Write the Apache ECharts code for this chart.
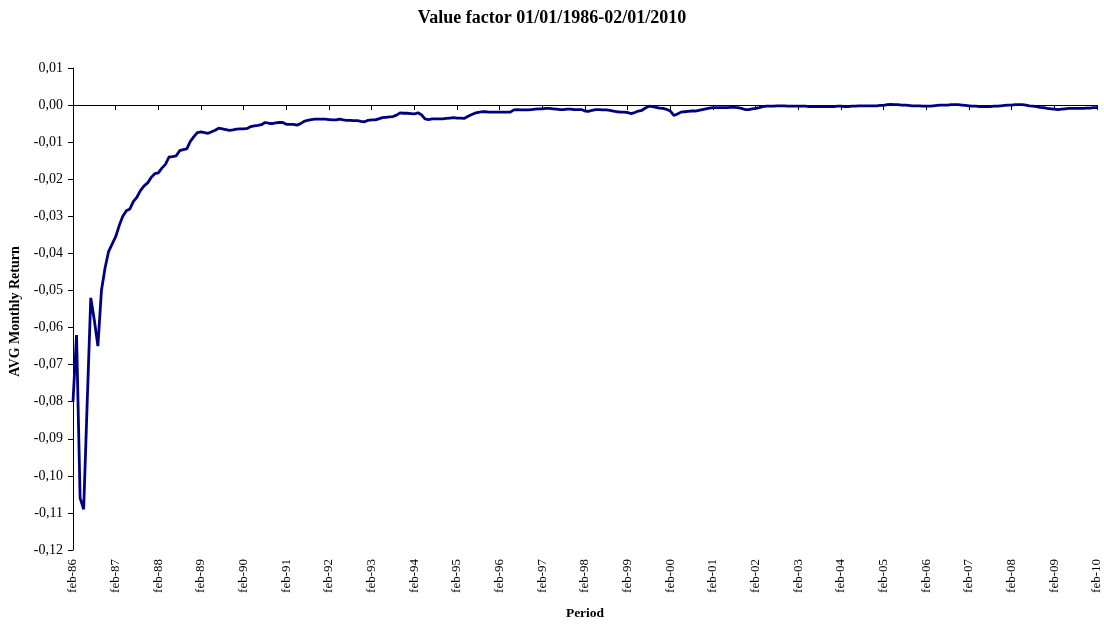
<!DOCTYPE html>
<html>
<head>
<meta charset="utf-8">
<script src="https://cdn.jsdelivr.net/npm/echarts@6/dist/echarts.min.js"></script>
<style>html,body{margin:0;padding:0;background:#fff}#c{width:1104px;height:626px}</style>
</head>
<body>
<div id="c"></div>
<script>
const titleText = 'Value factor 01/01/1986-02/01/2010';
const monthNames = ['jan','feb','mar','apr','may','jun','jul','aug','sep','oct','nov','dec'];
const startYear = 1986;
const startMonth = 1; // feb
const values = [
-0.080,-0.062,-0.106,-0.109,-0.080,-0.052,-0.058,-0.065,-0.050,-0.044,-0.0395,-0.0375,
-0.0355,-0.0325,-0.030,-0.0285,-0.028,-0.026,-0.0248,-0.023,-0.0218,-0.021,-0.0195,-0.0185,
-0.0183,-0.017,-0.016,-0.014,-0.0139,-0.0137,-0.0123,-0.012,-0.0118,-0.0098,-0.0085,-0.0074,
-0.0072,-0.0074,-0.0076,-0.0072,-0.0068,-0.0062,-0.0064,-0.0066,-0.0068,-0.0067,-0.0065,-0.0064,
-0.0064,-0.0063,-0.0058,-0.0056,-0.0055,-0.0053,-0.0047,-0.0049,-0.0050,-0.0048,-0.0047,-0.0047,
-0.0052,-0.0052,-0.0052,-0.0054,-0.0050,-0.0044,-0.0041,-0.0039,-0.0038,-0.0038,-0.0038,-0.0038,
-0.0039,-0.0040,-0.0040,-0.0038,-0.0040,-0.0041,-0.0041,-0.0042,-0.0042,-0.0044,-0.0045,-0.0041,
-0.0040,-0.0040,-0.0037,-0.0034,-0.0033,-0.0032,-0.0031,-0.0027,-0.0021,-0.0022,-0.0022,-0.0023,
-0.0024,-0.0021,-0.0026,-0.0037,-0.0039,-0.0037,-0.0037,-0.0037,-0.0037,-0.0036,-0.0035,-0.0034,
-0.0035,-0.0035,-0.0036,-0.0031,-0.0026,-0.0022,-0.0020,-0.0018,-0.0018,-0.0019,-0.0019,-0.0019,
-0.0019,-0.0019,-0.0019,-0.0019,-0.0013,-0.0012,-0.0013,-0.0013,-0.0013,-0.0012,-0.0011,-0.0010,
-0.0010,-0.0009,-0.0009,-0.0010,-0.0011,-0.0012,-0.0012,-0.0011,-0.0011,-0.0012,-0.0012,-0.0012,
-0.0016,-0.0017,-0.0014,-0.0012,-0.0012,-0.0013,-0.0013,-0.0014,-0.0016,-0.0018,-0.0019,-0.0019,
-0.0020,-0.0023,-0.0020,-0.0016,-0.0014,-0.0008,-0.0003,-0.0004,-0.0006,-0.0008,-0.0009,-0.0012,
-0.0016,-0.0028,-0.0024,-0.0019,-0.0018,-0.0017,-0.0016,-0.0016,-0.0014,-0.0012,-0.0010,-0.0008,
-0.0007,-0.0007,-0.0007,-0.0007,-0.0007,-0.0006,-0.0006,-0.0007,-0.0009,-0.0012,-0.0012,-0.0010,
-0.0009,-0.0007,-0.0004,-0.0003,-0.0003,-0.0003,-0.0002,-0.0002,-0.0002,-0.0003,-0.0003,-0.0003,
-0.0003,-0.0003,-0.0003,-0.0004,-0.0004,-0.0004,-0.0004,-0.0004,-0.0004,-0.0004,-0.0004,-0.0003,
-0.0003,-0.0004,-0.0004,-0.0003,-0.0003,-0.0002,-0.0002,-0.0002,-0.0002,-0.0002,-0.0002,-0.0001,
-0.0001,0.0001,0.0002,0.0001,0.0001,0.0000,0.0000,-0.0001,-0.0002,-0.0002,-0.0002,-0.0003,
-0.0003,-0.0003,-0.0002,-0.0001,0.0000,0.0000,0.0000,0.0001,0.0001,0.0001,0.0000,-0.0001,
-0.0002,-0.0003,-0.0003,-0.0004,-0.0004,-0.0004,-0.0004,-0.0003,-0.0003,-0.0002,-0.0001,0.0000,
0.0000,0.0001,0.0001,0.0001,0.0000,-0.0002,-0.0003,-0.0004,-0.0006,-0.0007,-0.0009,-0.0010,
-0.0011,-0.0012,-0.0011,-0.0010,-0.0009,-0.0009,-0.0009,-0.0009,-0.0009,-0.0008,-0.0008,-0.0007,
-0.0007
];
const yMin = -0.12, yMax = 0.01, yStep = 0.01;

const categories = values.map((v, i) => {
  const mi = startMonth + i;
  const y = startYear + Math.floor(mi / 12);
  return monthNames[mi % 12] + '-' + String(y % 100).padStart(2, '0');
});

const font = '"Liberation Serif", "Times New Roman", serif';
const chart = echarts.init(document.getElementById('c'));
chart.setOption({
  animation: false,
  backgroundColor: '#fff',
  title: {
    text: titleText, left: 'center', top: 9, padding: 0,
    textStyle: { fontFamily: font, fontSize: 18, fontWeight: 'bold', color: '#000' }
  },
  grid: { left: 73, right: 7, top: 68, bottom: 72.5, containLabel: false },
  xAxis: [
    {
      type: 'category', data: categories, boundaryGap: false,
      axisLine: { onZero: true, lineStyle: { color: '#000', width: 1 } },
      axisTick: { show: true, interval: 11, length: 5, inside: false, lineStyle: { color: '#000' } },
      axisLabel: { show: false },
      splitLine: { show: false }
    },
    {
      type: 'category', data: categories, boundaryGap: false, position: 'bottom',
      axisLine: { show: false, onZero: false },
      axisTick: { show: false },
      axisLabel: { show: true, interval: 11, rotate: 90, margin: 9, fontFamily: font, fontSize: 13, color: '#000' },
      name: 'Period', nameLocation: 'middle', nameGap: 57,
      nameTextStyle: { fontFamily: font, fontSize: 13.5, fontWeight: 'bold', color: '#000' },
      splitLine: { show: false }
    }
  ],
  yAxis: {
    type: 'value', min: yMin, max: yMax, interval: yStep,
    axisLine: { show: true, lineStyle: { color: '#000', width: 1 } },
    axisTick: { show: true, length: 5, lineStyle: { color: '#000' } },
    axisLabel: {
      margin: 10, fontFamily: font, fontSize: 14, color: '#000',
      formatter: v => v.toFixed(2).replace('.', ',')
    },
    splitLine: { show: false },
    name: 'AVG Monthly Return', nameLocation: 'middle', nameGap: 51, nameRotate: 90,
    nameTextStyle: { fontFamily: font, fontSize: 14, fontWeight: 'bold', color: '#000', padding: [0, 5, 0, 0] }
  },
  series: [{
    type: 'line', data: values, xAxisIndex: 0, showSymbol: false, symbol: 'none',
    lineStyle: { color: '#000080', width: 2.8 }, z: 3
  }]
});
</script>
</body>
</html>
